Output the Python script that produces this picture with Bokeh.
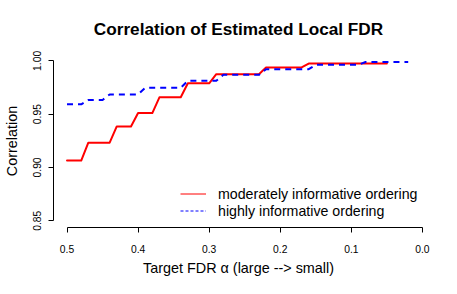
from bokeh.plotting import figure
from bokeh.models import Range1d, FixedTicker, Legend, LegendItem, NumeralTickFormatter
from bokeh.embed import file_html
from bokeh.resources import INLINE

# ---- data ----
alpha_mod = [0.50, 0.49, 0.48, 0.47, 0.46, 0.45, 0.44, 0.43, 0.42, 0.41,
             0.40, 0.39, 0.38, 0.37, 0.36, 0.35, 0.34, 0.33, 0.32, 0.31,
             0.30, 0.29, 0.28, 0.27, 0.26, 0.25, 0.24, 0.23, 0.22, 0.21,
             0.20, 0.19, 0.18, 0.17, 0.16, 0.15, 0.14, 0.13, 0.12, 0.11,
             0.10, 0.09, 0.08, 0.07, 0.06, 0.05]
corr_mod = [0.9064, 0.9064, 0.9064, 0.9232, 0.9232, 0.9232, 0.9232, 0.9385, 0.9385, 0.9385,
            0.9510, 0.9510, 0.9510, 0.9658, 0.9658, 0.9658, 0.9658, 0.9790, 0.9790, 0.9790,
            0.9790, 0.9875, 0.9875, 0.9875, 0.9875, 0.9875, 0.9875, 0.9875, 0.9938, 0.9938,
            0.9938, 0.9938, 0.9938, 0.9938, 0.9975, 0.9975, 0.9975, 0.9975, 0.9975, 0.9975,
            0.9975, 0.9975, 0.9975, 0.9975, 0.9975, 0.9975]

alpha_high = [0.50, 0.49, 0.48, 0.47, 0.46, 0.45, 0.44, 0.43, 0.42, 0.41,
              0.40, 0.39, 0.38, 0.37, 0.36, 0.35, 0.34, 0.33, 0.32, 0.31,
              0.30, 0.29, 0.28, 0.27, 0.26, 0.25, 0.24, 0.23, 0.22, 0.21,
              0.20, 0.19, 0.18, 0.17, 0.16, 0.15, 0.14, 0.13, 0.12, 0.11,
              0.10, 0.09, 0.08, 0.07, 0.06, 0.05, 0.04, 0.03, 0.02]
corr_high = [0.9592, 0.9592, 0.9592, 0.9633, 0.9633, 0.9633, 0.9685, 0.9685, 0.9685, 0.9685,
             0.9685, 0.9748, 0.9748, 0.9748, 0.9748, 0.9748, 0.9748, 0.9813, 0.9813, 0.9813,
             0.9813, 0.9813, 0.9869, 0.9869, 0.9869, 0.9869, 0.9869, 0.9869, 0.9922, 0.9922,
             0.9922, 0.9922, 0.9922, 0.9922, 0.9922, 0.9963, 0.9963, 0.9963, 0.9963, 0.9963,
             0.9963, 0.9963, 0.9990, 0.9990, 0.9990, 0.9990, 0.9990, 0.9990, 0.9990]

series_labels = ["moderately informative ordering", "highly informative ordering"]
x_ticks = [0.5, 0.4, 0.3, 0.2, 0.1, 0.0]
y_ticks = [0.85, 0.90, 0.95, 1.00]

FONT = "Liberation Sans"

p = figure(frame_width=370, frame_height=173,
           x_range=Range1d(0.519, -0.0015), y_range=Range1d(0.8436, 1.006),
           min_border_left=53, min_border_right=34, min_border_top=54, min_border_bottom=67,
           output_backend="svg", toolbar_location=None,
           title="Correlation of Estimated Local FDR")

p.background_fill_color = "white"
p.border_fill_color = "white"
p.outline_line_color = None
p.grid.visible = False

p.title.text_font = FONT
p.title.text_font_size = "17.2px"
p.title.text_font_style = "bold"
p.title.text_color = "black"
p.title.align = "center"
p.title.offset = 3
p.title.standoff = 32

for ax in (p.xaxis[0], p.yaxis[0]):
    ax.axis_line_color = "black"
    ax.major_tick_line_color = "black"
    ax.minor_tick_line_color = None
    ax.major_tick_in = 0
    ax.major_tick_out = 5
    ax.major_label_text_font = FONT
    ax.major_label_text_font_size = "10.3px"
    ax.major_label_text_color = "black"
    ax.axis_label_text_font = FONT
    ax.axis_label_text_font_size = "14.4px"
    ax.axis_label_text_font_style = "normal"
    ax.axis_label_text_color = "black"

p.xaxis.ticker = FixedTicker(ticks=x_ticks)
p.xaxis.formatter = NumeralTickFormatter(format="0.0")
p.xaxis.bounds = (min(x_ticks), max(x_ticks))
p.xaxis.major_label_standoff = 12
p.xaxis.axis_label = "Target FDR α (large --> small)"
p.xaxis.axis_label_standoff = 4

p.yaxis.ticker = FixedTicker(ticks=y_ticks)
p.yaxis.formatter = NumeralTickFormatter(format="0.00")
p.yaxis.bounds = (min(y_ticks), max(y_ticks))
p.yaxis.major_label_orientation = "vertical"
p.yaxis.major_label_standoff = 7
p.yaxis.axis_label = "Correlation"
p.yaxis.axis_label_standoff = 11

p.line(alpha_mod, corr_mod, line_color="red", line_width=2,
       line_cap="round", line_join="round")
p.line(alpha_high, corr_high, line_color="blue", line_width=2,
       line_dash="6 5", line_join="round")

# thin legend samples (as in the reference legend); no visible data
nan = float("nan")
leg_mod = p.line(x=[nan], y=[nan], line_color="red", line_width=1)
leg_high = p.line(x=[nan], y=[nan], line_color="blue", line_width=1, line_dash="3 2")

legend = Legend(items=[LegendItem(label=series_labels[0], renderers=[leg_mod]),
                       LegendItem(label=series_labels[1], renderers=[leg_high])],
                location=(127, 8))
legend.border_line_color = None
legend.background_fill_alpha = 0
legend.padding = 0
legend.margin = 0
legend.spacing = 0
legend.glyph_width = 26
legend.glyph_height = 17
legend.label_height = 17
legend.label_standoff = 12
legend.label_text_font = FONT
legend.label_text_font_size = "14.2px"
legend.label_text_color = "black"
p.add_layout(legend, "center")

open("out.html", "w").write(file_html(p, INLINE))
